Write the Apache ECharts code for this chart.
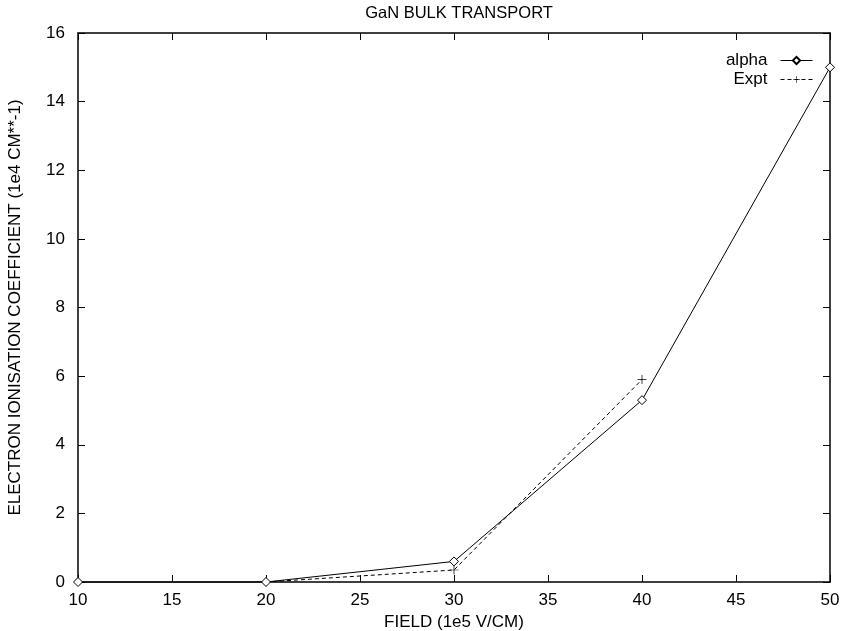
<!DOCTYPE html>
<html>
<head>
<meta charset="utf-8">
<script src="https://cdn.jsdelivr.net/npm/echarts@6/dist/echarts.min.js"></script>
<style>
  html, body { margin: 0; padding: 0; background: #fff; }
  #chart { width: 842px; height: 631px; }
</style>
</head>
<body>
<div id="chart"></div>
<script>
// Field values (1e5 V/CM)
const fieldAlpha = [10, 20, 30, 40, 50];
const alphaValues = [0, 0, 0.6, 5.3, 15];
const fieldExpt = [20, 30, 40];
const exptValues = [0, 0.35, 5.9];

const xTicks = [10, 15, 20, 25, 30, 35, 40, 45, 50];
const yTicks = [0, 2, 4, 6, 8, 10, 12, 14, 16];

const FONT = '"Liberation Sans", Arial, Helvetica, sans-serif';
const FS = 17;
const PLUS = 'path://M4.6,0H5.4V4.6H10V5.4H5.4V10H4.6V5.4H0V4.6H4.6Z';

const chart = echarts.init(document.getElementById('chart'), null, { renderer: 'canvas' });

const axisLineStyle = { color: '#000', width: 1.5 };
const tickStyle = { show: true, inside: true, length: 7, lineStyle: { color: '#000', width: 1 } };

chart.setOption({
  backgroundColor: '#fff',
  animation: false,
  title: {
    text: 'GaN BULK TRANSPORT',
    left: 454,
    textAlign: 'center',
    top: 0,
    textStyle: { fontFamily: FONT, fontSize: 16.5, fontWeight: 'normal', color: '#000' }
  },
  legend: {
    right: 24,
    top: 47,
    orient: 'vertical',
    align: 'right',
    itemGap: 2,
    itemWidth: 32,
    itemHeight: 9,
    lineStyle: { width: 1 },
    textStyle: { fontFamily: FONT, fontSize: FS, color: '#000', padding: [0, 8, 0, 0] },
    data: ['alpha', 'Expt']
  },
  grid: { left: 78, right: 12, top: 33, bottom: 49, outerBoundsMode: 'none', containLabel: false },
  xAxis: [
    {
      type: 'value',
      min: 10, max: 50, interval: 5,
      name: 'FIELD (1e5 V/CM)',
      nameLocation: 'middle',
      nameGap: 30,
      nameTextStyle: { fontFamily: FONT, fontSize: FS, color: '#000' },
      axisLine: { show: true, onZero: false, lineStyle: axisLineStyle },
      axisTick: tickStyle,
      splitLine: { show: false },
      axisLabel: { fontFamily: FONT, fontSize: FS, color: '#000', margin: 10,
        formatter: v => xTicks.includes(v) ? String(v) : '' }
    },
    {
      type: 'value',
      position: 'top',
      min: 10, max: 50, interval: 5,
      axisLine: { show: true, onZero: false, lineStyle: axisLineStyle },
      axisTick: tickStyle,
      splitLine: { show: false },
      axisLabel: { show: false }
    }
  ],
  yAxis: [
    {
      type: 'value',
      min: 0, max: 16, interval: 2,
      name: 'ELECTRON IONISATION COEFFICIENT (1e4 CM**-1)',
      nameLocation: 'middle',
      nameGap: 54,
      nameTextStyle: { fontFamily: FONT, fontSize: FS, color: '#000' },
      axisLine: { show: true, onZero: false, lineStyle: axisLineStyle },
      axisTick: tickStyle,
      splitLine: { show: false },
      axisLabel: { fontFamily: FONT, fontSize: FS, color: '#000', margin: 13,
        formatter: v => yTicks.includes(v) ? String(v) : '' }
    },
    {
      type: 'value',
      position: 'right',
      min: 0, max: 16, interval: 2,
      axisLine: { show: true, onZero: false, lineStyle: axisLineStyle },
      axisTick: tickStyle,
      splitLine: { show: false },
      axisLabel: { show: false }
    }
  ],
  series: [
    {
      name: 'alpha',
      type: 'line',
      xAxisIndex: 0, yAxisIndex: 0,
      data: fieldAlpha.map((x, i) => [x, alphaValues[i]]),
      symbol: 'diamond',
      symbolSize: 9,
      showAllSymbol: true,
      clip: false,
      lineStyle: { color: '#000', width: 1, type: 'solid' },
      itemStyle: { color: '#fff', borderColor: '#000', borderWidth: 1 },
      z: 3
    },
    {
      name: 'Expt',
      type: 'line',
      xAxisIndex: 0, yAxisIndex: 0,
      data: fieldExpt.map((x, i) => [x, exptValues[i]]),
      symbol: PLUS,
      symbolSize: 9,
      showAllSymbol: true,
      clip: false,
      lineStyle: { color: '#000', width: 1, type: [4, 3] },
      itemStyle: { color: '#000', borderWidth: 0 },
      z: 2
    }
  ]
});
</script>
</body>
</html>
